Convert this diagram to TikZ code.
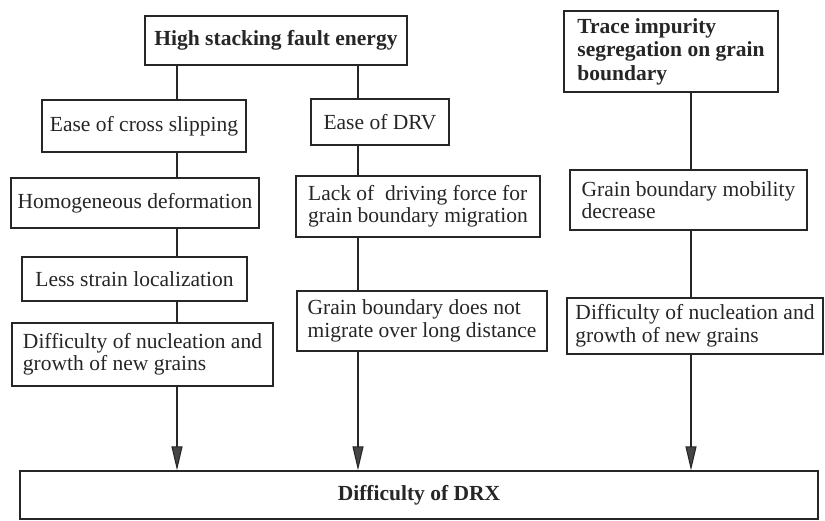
\documentclass[tikz,border=0pt]{standalone}
\usepackage{fontspec}
\setmainfont{Liberation Serif}
\usetikzlibrary{arrows.meta}
\definecolor{ink}{HTML}{262626}
\definecolor{tipfill}{HTML}{454545}
\begin{document}
\begin{tikzpicture}[x=1pt,y=-1pt,
  box/.style={draw=ink, line width=1.3pt, rectangle, inner sep=0pt, text=ink,
    font=\fontsize{21.5}{22.5}\selectfont, align=left},
  bbox/.style={box, font=\fontsize{21.5}{23.5}\selectfont\bfseries},
  conn/.style={draw=ink, line width=1.1pt},
  arr/.style={conn, -{Triangle[length=24pt,width=11pt,fill=tipfill]}}
]
\useasboundingbox (0,0) rectangle (825,521);
\fill[white] (0,0) rectangle (825,521);

\coordinate (colL) at (177,0);
\coordinate (colM) at (358,0);
\coordinate (colR) at (691,0);

% left / middle tree
\node[bbox, minimum width=262pt, minimum height=49pt, align=center] (hsfe) at (276,40.5) {High stacking fault energy};
\node[box, minimum width=204pt, minimum height=52pt, align=center] (ecs) at (144,126) {Ease of cross slipping};
\node[box, minimum width=138pt, minimum height=46pt, align=center] (edrv) at (380,122) {Ease of DRV};
\node[box, minimum width=248pt, minimum height=50pt, align=center] (hd) at (135,203) {Homogeneous deformation};
\node[box, minimum width=244pt, minimum height=61pt] (ldf) at (418,206.5) {Lack of~ driving force for\\grain boundary migration};
\node[box, minimum width=225pt, minimum height=44pt, align=center] (lsl) at (134.5,279) {Less strain localization};
\node[box, minimum width=261pt, minimum height=63pt] (dn1) at (142.5,354.5) {Difficulty of nucleation and\\growth of new grains};
\node[box, minimum width=250pt, minimum height=60pt] (gbd) at (422,321) {Grain boundary does not\\migrate over long distance};

% right tree
\node[bbox, minimum width=214pt, minimum height=81pt] (ti) at (671,51.5) {Trace impurity\\segregation on grain\\boundary};
\node[box, minimum width=237pt, minimum height=60pt] (gbm) at (688.5,200) {Grain boundary mobility\\decrease};
\node[box, minimum width=256pt, minimum height=56pt] (dn2) at (695,326) {Difficulty of nucleation and\\growth of new grains};

% bottom
\node[bbox, minimum width=798pt, minimum height=48pt, align=center] (drx) at (419,495) {Difficulty of DRX};

% connectors
\draw[conn] (hsfe.south -| colL) -- (ecs.north -| colL);
\draw[conn] (hsfe.south -| colM) -- (edrv.north -| colM);
\draw[conn] (ecs.south -| colL) -- (hd.north -| colL);
\draw[conn] (hd.south -| colL) -- (lsl.north -| colL);
\draw[conn] (lsl.south -| colL) -- (dn1.north -| colL);
\draw[arr] (dn1.south -| colL) -- (drx.north -| colL);

\draw[conn] (edrv.south -| colM) -- (ldf.north -| colM);
\draw[conn] (ldf.south -| colM) -- (gbd.north -| colM);
\draw[arr] (gbd.south -| colM) -- (drx.north -| colM);

\draw[conn] (ti.south -| colR) -- (gbm.north -| colR);
\draw[conn] (gbm.south -| colR) -- (dn2.north -| colR);
\draw[arr] (dn2.south -| colR) -- (drx.north -| colR);
\end{tikzpicture}
\end{document}
